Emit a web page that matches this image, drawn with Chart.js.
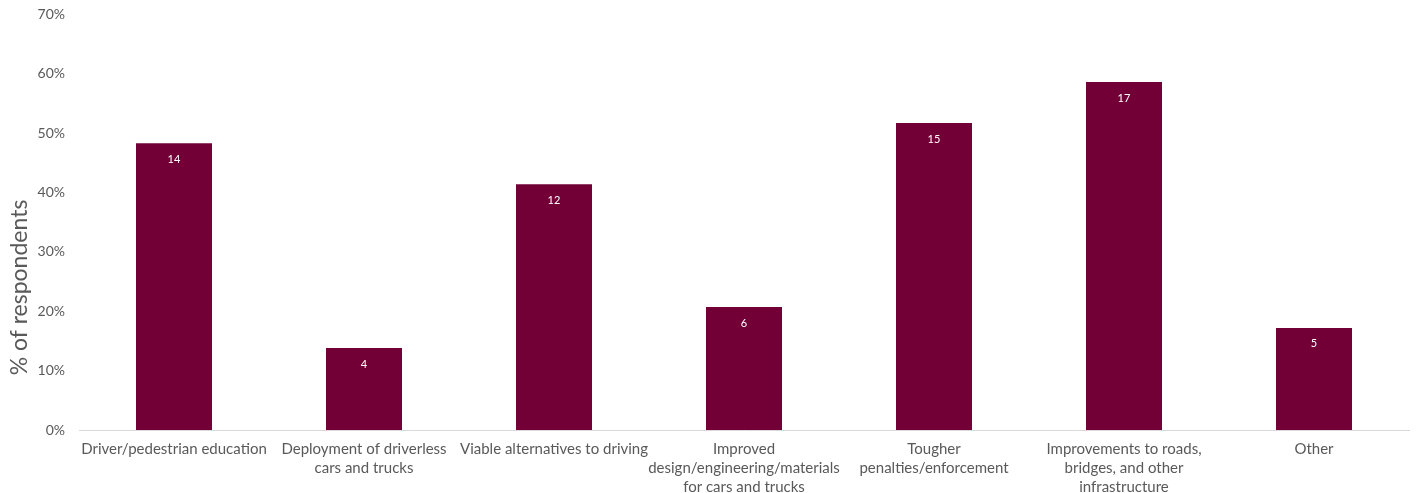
<!DOCTYPE html>
<html>
<head>
<meta charset="utf-8">
<script src="https://cdn.jsdelivr.net/npm/chart.js@4/dist/chart.umd.min.js"></script>
<style>
  html, body { margin: 0; padding: 0; background: #fff; }
  #wrap { width: 1416px; height: 493px; position: relative; }
</style>
</head>
<body>
<div id="wrap"><canvas id="chart"></canvas></div>
<script>
// categories (multi-line tick labels)
const categories = [
    ['Driver/pedestrian education'],
    ['Deployment of driverless', 'cars and trucks'],
    ['Viable alternatives to driving'],
    ['Improved', 'design/engineering/materials', 'for cars and trucks'],
    ['Tougher', 'penalties/enforcement'],
    ['Improvements to roads,', 'bridges, and other', 'infrastructure'],
    ['Other']
];
// share of respondents (%)
const percentValues = [48.3, 13.8, 41.4, 20.7, 51.7, 58.6, 17.2];
// number of respondents shown inside the bars
const counts = [14, 4, 12, 6, 15, 17, 5];
const yTitle = '% of respondents';

const fontFamily = 'Lato, "Open Sans", sans-serif';
const textColor = '#595959';

// draw the count labels just inside the top of each bar
const countLabels = {
    id: 'countLabels',
    afterDatasetsDraw(chart) {
        const ctx = chart.ctx;
        const meta = chart.getDatasetMeta(0);
        ctx.save();
        ctx.fillStyle = '#ffffff';
        ctx.font = '11px ' + fontFamily;
        ctx.textAlign = 'center';
        ctx.textBaseline = 'middle';
        meta.data.forEach((bar, i) => {
            ctx.fillText(String(counts[i]), bar.x, bar.y + 16);
        });
        ctx.restore();
    }
};

// y axis title, sits a bit lower than centre like the original
const axisTitle = {
    id: 'axisTitle',
    afterDraw(chart) {
        const ctx = chart.ctx;
        const y = chart.scales.y;
        ctx.save();
        ctx.translate(20, y.getPixelForValue(24));
        ctx.rotate(-Math.PI / 2);
        ctx.fillStyle = textColor;
        ctx.font = '23px ' + fontFamily;
        ctx.textAlign = 'center';
        ctx.textBaseline = 'middle';
        ctx.fillText(yTitle, 0, 0);
        ctx.restore();
    }
};

const ctx = document.getElementById('chart').getContext('2d');
const chart = new Chart(ctx, {
    type: 'bar',
    data: {
        labels: categories,
        datasets: [{
            data: percentValues,
            backgroundColor: '#720036',
            borderWidth: 0,
            barPercentage: 0.4,
            categoryPercentage: 1.0
        }]
    },
    options: {
        responsive: true,
        maintainAspectRatio: false,
        animation: false,
        layout: { padding: { top: 6, right: 7, bottom: 0, left: 0 } },
        plugins: {
            legend: { display: false },
            tooltip: { enabled: false }
        },
        scales: {
            x: {
                grid: { display: false },
                border: { display: true, color: '#d9d9d9', width: 1 },
                ticks: {
                    color: textColor,
                    font: { family: fontFamily, size: 15, lineHeight: 1.25 },
                    padding: 2,
                    maxRotation: 0,
                    autoSkip: false
                },
                afterFit: function(scale) { scale.height = 63; }
            },
            y: {
                min: 0,
                max: 70,
                grid: { display: false },
                border: { display: false },
                ticks: {
                    stepSize: 10,
                    color: textColor,
                    font: { family: fontFamily, size: 14 },
                    padding: 6,
                    callback: v => v + '%'
                },
                afterFit: function(scale) { scale.width = 79; }
            }
        }
    },
    plugins: [countLabels, axisTitle]
});
</script>
</body>
</html>
